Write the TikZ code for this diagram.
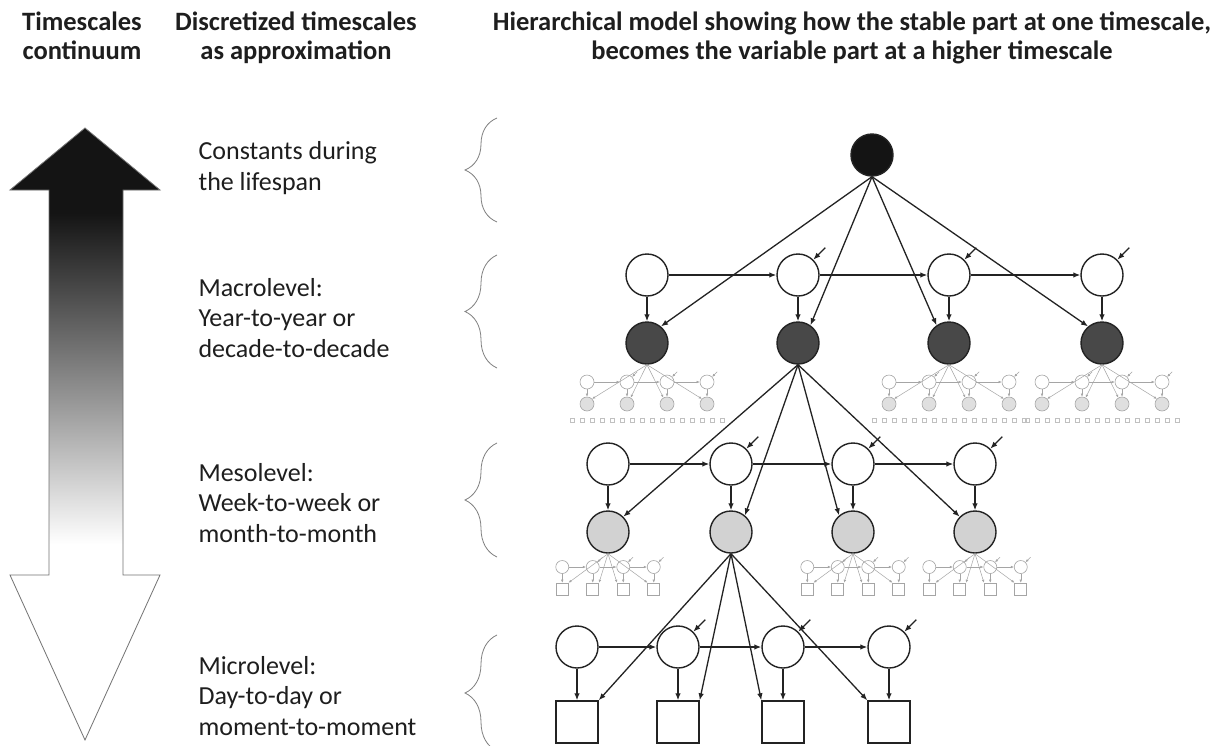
\documentclass[tikz,border=0pt]{standalone}
\usepackage{fontspec}
\setmainfont{Carlito}
\usetikzlibrary{arrows.meta,calc,decorations.pathreplacing}

\definecolor{linec}{RGB}{35,35,35}
\definecolor{faintc}{RGB}{165,165,165}
\definecolor{topfill}{RGB}{20,20,20}
\definecolor{darkfill}{RGB}{72,72,72}
\definecolor{lightfill}{RGB}{210,210,210}
\definecolor{txtc}{RGB}{30,30,30}

\pgfdeclareverticalshading{timegrad}{100bp}{color(0bp)=(white); color(41bp)=(white); color(53bp)=(black!42); color(68bp)=(black!92); color(100bp)=(black!92)}

\tikzset{
  every picture/.style={line width=1.1pt},
  bigc/.style={circle, draw=linec, line width=1.4pt, minimum size=42pt, inner sep=0pt, fill=white},
  topc/.style={bigc, fill=topfill},
  darkc/.style={bigc, fill=darkfill},
  lightc/.style={bigc, fill=lightfill},
  obsbox/.style={draw=linec, line width=1.4pt, minimum size=42pt, inner sep=0pt, fill=white},
  tinyc/.style={circle, draw=faintc, line width=0.6pt, minimum size=14pt, inner sep=0pt, fill=white},
  tinyg/.style={tinyc, fill=lightfill!70},
  tinysq/.style={draw=faintc, line width=0.6pt, minimum size=12pt, inner sep=0pt, fill=white},
  dotsq/.style={draw=faintc!70, line width=0.4pt, minimum size=4pt, inner sep=0pt},
  arr/.style={draw=linec, line width=1.3pt, -{Latex[length=7pt,width=5.5pt]}},
  farr/.style={draw=faintc, line width=0.5pt, -{Latex[length=3pt,width=2.5pt]}},
  curly/.style={draw=black!50, line width=0.8pt, decorate, decoration={brace, amplitude=32pt}},
  head/.style={font=\bfseries\fontsize{26.5}{29}\selectfont, text=txtc, align=center, anchor=north, inner sep=0pt},
  lvl/.style={font=\fontsize{26}{30.5}\selectfont, text=txtc, align=left, anchor=west, inner sep=0pt}
}

\begin{document}
\begin{tikzpicture}[x=1pt,y=-1pt]
\useasboundingbox (0,0) rectangle (1220,745);
\fill[white] (0,0) rectangle (1220,745);

% Headings
\node[head] (hcont) at (82,11) {Timescales\\continuum};
\node[head] (hdisc) at (296,11) {Discretized timescales\\as approximation};
\node[head] (hhier) at (852,11) {Hierarchical model showing how the stable part at one timescale,\\becomes the variable part at a higher timescale};

% Timescale arrow
\path[draw=black!55, line width=0.8pt, shading=timegrad] (85,128) -- (160,190) -- (123,190) -- (123,575) -- (160,575) -- (85,740) -- (10,575) -- (49,575) -- (49,190) -- (10,190) -- cycle;

% Level texts
\node[lvl] (tconst) at (198,168) {Constants during\\the lifespan};
\node[lvl] (tmacro) at (198,318) {Macrolevel:\\Year-to-year or\\decade-to-decade};
\node[lvl] (tmeso) at (198,503) {Mesolevel:\\Week-to-week or\\month-to-month};
\node[lvl] (tmicro) at (198,696) {Microlevel:\\Day-to-day or\\moment-to-moment};

% Braces
\draw[curly] (497,222) -- (497,118);
\draw[curly] (497,368) -- (497,255);
\draw[curly] (497,557) -- (497,443);
\draw[curly] (497,751) -- (497,635);

% Lifespan constant
\node[topc] (top) at (872,155) {};

% Macrolevel
\foreach \i/\x in {1/647,2/798,3/949,4/1102} {
  \node[bigc] (maw\i) at (\x,275) {};
  \node[darkc] (mad\i) at (\x,343) {};
  \draw[arr] (maw\i) -- (mad\i);
}
\foreach \i/\j in {1/2,2/3,3/4} \draw[arr] (maw\i) -- (maw\j);
\foreach \i in {2,3,4} \draw[arr] ([shift={(12,-12)}]maw\i.45) -- (maw\i.45);
\draw[arr] (top.south) -- (mad1.50);
\draw[arr] (top.south) -- (mad2.55);
\draw[arr] (top.south) -- (mad3.125);
\draw[arr] (top.south) -- (mad4.130);

% faint macro sub-models
\foreach \p in {1,3,4} {
  \foreach \k in {1,...,4} {
    \node[tinyc] (msw\p\k) at ($(mad\p)+({(\k-2.5)*40},39)$) {};
    \node[tinyg] (msg\p\k) at ($(mad\p)+({(\k-2.5)*40},61)$) {};
    \draw[farr] (msw\p\k) -- (msg\p\k);
  }
  \foreach \k/\l in {1/2,2/3,3/4} {
    \draw[farr] (msw\p\k) -- (msw\p\l);
    \draw[farr] ([shift={(5,-5)}]msw\p\l.45) -- (msw\p\l.45);
  }
  \draw[farr] (mad\p.south) -- (msg\p1.45);
  \draw[farr] (mad\p.south) -- (msg\p2.60);
  \draw[farr] (mad\p.south) -- (msg\p3.120);
  \draw[farr] (mad\p.south) -- (msg\p4.135);
  \foreach \t in {0,...,15} \node[dotsq] (msd\p\t) at ($(mad\p)+({(\t-7.5)*10},77)$) {};
}

% Mesolevel
\foreach \i/\x in {1/608,2/731,3/853,4/975} {
  \node[bigc] (mew\i) at (\x,464) {};
  \node[lightc] (meg\i) at (\x,532) {};
  \draw[arr] (mew\i) -- (meg\i);
}
\foreach \i/\j in {1/2,2/3,3/4} \draw[arr] (mew\i) -- (mew\j);
\foreach \i in {2,3,4} \draw[arr] ([shift={(12,-12)}]mew\i.45) -- (mew\i.45);
\draw[arr] (mad2.south) -- (meg1.45);
\draw[arr] (mad2.south) -- (meg2.50);
\draw[arr] (mad2.south) -- (meg3.130);
\draw[arr] (mad2.south) -- (meg4.135);

% faint meso sub-models
\foreach \p in {1,3,4} {
  \foreach \k in {1,...,4} {
    \node[tinyc, minimum size=13pt] (mesw\p\k) at ($(meg\p)+({(\k-2.5)*30.5},35)$) {};
    \node[tinysq] (mess\p\k) at ($(meg\p)+({(\k-2.5)*30.5},57)$) {};
    \draw[farr] (mesw\p\k) -- (mess\p\k);
  }
  \foreach \k/\l in {1/2,2/3,3/4} {
    \draw[farr] (mesw\p\k) -- (mesw\p\l);
    \draw[farr] ([shift={(5,-5)}]mesw\p\l.45) -- (mesw\p\l.45);
  }
  \draw[farr] (meg\p.south) -- (mess\p1.north east);
  \draw[farr] (meg\p.south) -- (mess\p2.north east);
  \draw[farr] (meg\p.south) -- (mess\p3.north west);
  \draw[farr] (meg\p.south) -- (mess\p4.north west);
}

% Microlevel
\foreach \i/\x in {1/577,2/678,3/783,4/889} {
  \node[bigc] (miw\i) at (\x,647) {};
  \node[obsbox] (mis\i) at (\x,722) {};
  \draw[arr] (miw\i) -- (mis\i);
}
\foreach \i/\j in {1/2,2/3,3/4} \draw[arr] (miw\i) -- (miw\j);
\foreach \i in {2,3,4} \draw[arr] ([shift={(12,-12)}]miw\i.45) -- (miw\i.45);
\draw[arr] (meg2.south) -- (mis1.north east);
\draw[arr] (meg2.south) -- (mis2.north east);
\draw[arr] (meg2.south) -- (mis3.north west);
\draw[arr] (meg2.south) -- (mis4.north west);

\end{tikzpicture}
\end{document}
